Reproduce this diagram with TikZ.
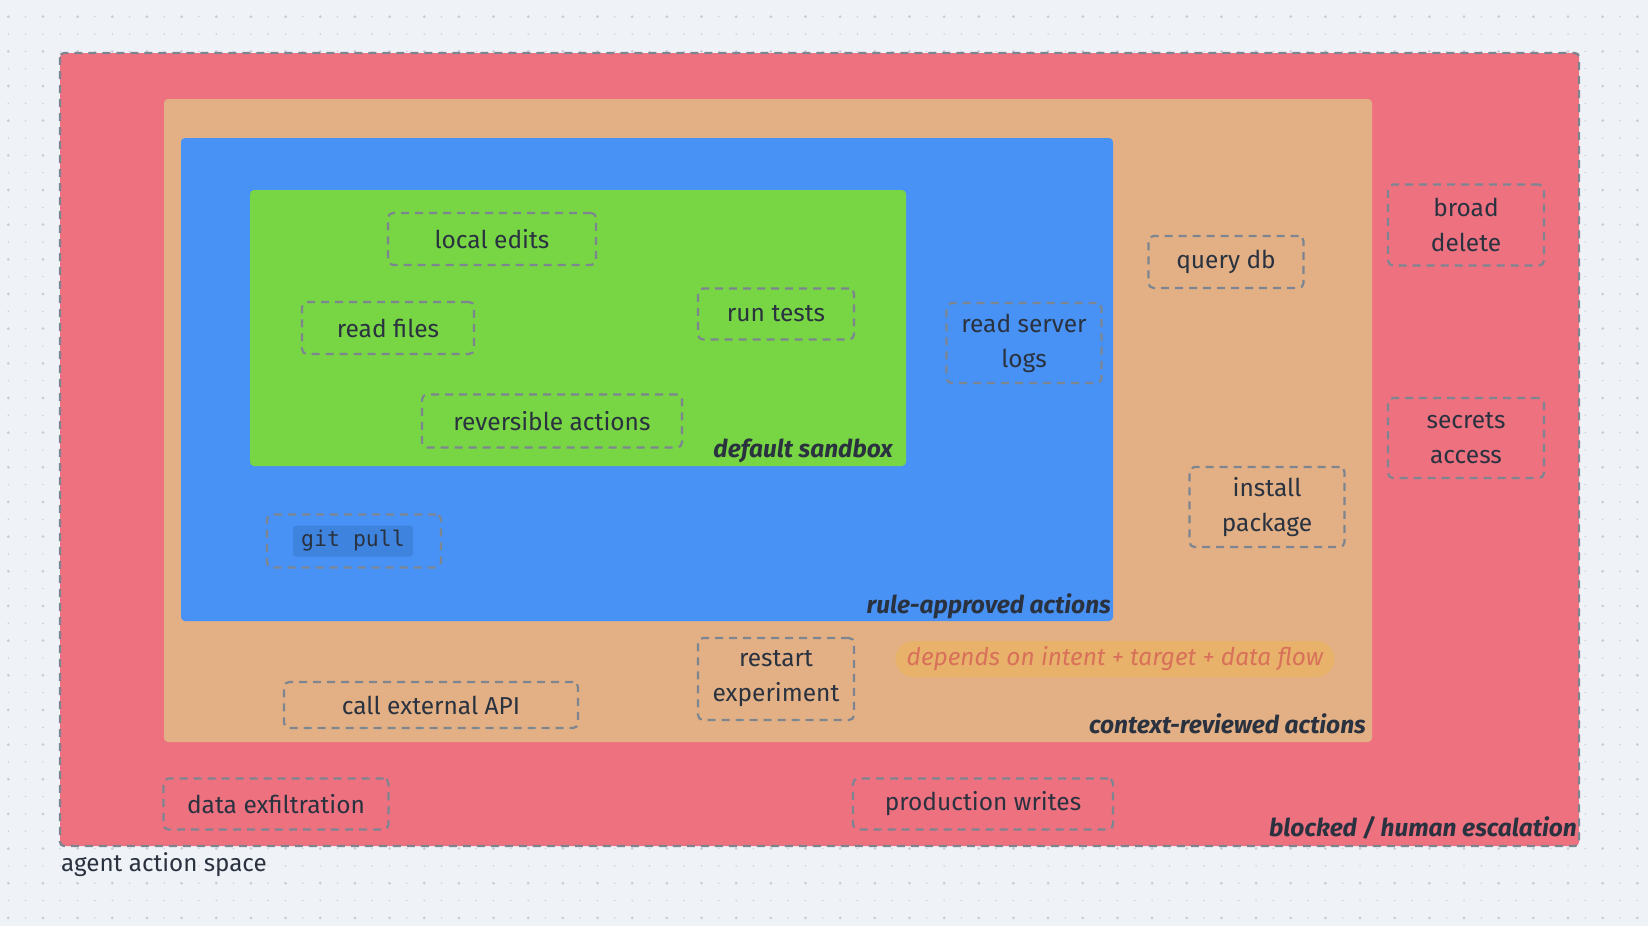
\documentclass[tikz,border=0pt]{standalone}
\usepackage{fontspec}
\setmainfont{Fira Sans}
\setmonofont{DejaVu Sans Mono}
\usetikzlibrary{positioning}
\definecolor{bggray}{RGB}{239,242,246}
\definecolor{dotgray}{RGB}{200,205,218}
\definecolor{blockred}{RGB}{238,113,128}
\definecolor{reviewtan}{RGB}{226,176,132}
\definecolor{ruleblue}{RGB}{72,146,245}
\definecolor{sandgreen}{RGB}{120,213,68}
\definecolor{dashgray}{RGB}{125,133,145}
\definecolor{inkdark}{RGB}{42,50,64}
\definecolor{pillamber}{RGB}{232,178,106}
\definecolor{coraltext}{RGB}{216,112,90}
\definecolor{gitblue}{RGB}{62,132,222}
\tikzset{
  zone/.style={rounded corners=4pt},
  action/.style={draw=dashgray,line width=2.2pt,dash pattern=on 8pt off 6pt,
    rounded corners=5pt,align=center,text=inkdark,inner sep=0pt,
    font=\fontsize{24.5}{35}\selectfont},
  zonelab/.style={anchor=base east,inner sep=0pt,text=inkdark,
    font=\fontsize{24.5}{28}\selectfont\bfseries\itshape},
  codechip/.style={fill=gitblue,rounded corners=3pt,inner sep=0pt,
    text=inkdark,font=\fontsize{21.5}{26}\ttfamily},
  pill/.style={fill=pillamber,rounded corners=18pt,inner sep=0pt,
    text=coraltext,font=\fontsize{24.4}{28}\selectfont\itshape}
}
\begin{document}
\begin{tikzpicture}[x=1pt,y=-1pt]
  \useasboundingbox[fill=bggray] (0,0) rectangle (1648,926);
  % dot grid
  \foreach \i in {0,...,94} {
    \foreach \j in {0,...,53} {
      \fill[dotgray] (8.3+17.33*\i,16.7+17.33*\j) circle (0.8);
    }
  }
  \foreach \i in {0,...,47} {
    \foreach \j in {0,...,26} {
      \fill[dotgray] (8.3+34.66*\i,16.7+34.66*\j) circle (1.5);
    }
  }
  % nested zones
  \fill[zone,blockred] (60,53) rectangle (1579,846);
  \draw[dashgray,line width=2.2pt,dash pattern=on 8pt off 6pt,rounded corners=4pt]
    (60,53) rectangle (1579,846);
  \fill[zone,reviewtan] (164,99) rectangle (1372,742);
  \fill[zone,ruleblue] (181,138) rectangle (1113,621);
  \fill[zone,sandgreen] (250,190) rectangle (906,466);

  \node[zonelab] (sandboxlab) at (893,457) {default sandbox};
  \node[zonelab] (rulelab) at (1111,613) {rule-approved actions};
  \node[zonelab] (contextlab) at (1366,733) {context-reviewed actions};
  \node[zonelab] (blockedlab) at (1577,836) {blocked / human escalation};
  \node[anchor=base west,inner sep=0pt,text=inkdark,font=\fontsize{24.2}{28}\selectfont]
    (spacelab) at (61,871) {agent action space};

  % default sandbox
  \node[action,minimum width=208,minimum height=52] (localedits) at (492,239) {local edits};
  \node[action,minimum width=172,minimum height=52] (readfiles) at (388,328) {read files};
  \node[action,minimum width=156,minimum height=51] (runtests) at (776,314) {run tests};
  \node[action,minimum width=260,minimum height=53] (reversible) at (552,421) {reversible actions};

  % rule-approved
  \node[action,minimum width=174,minimum height=53] (gitpull) at (354,541) {};
  \node[codechip,minimum width=120,minimum height=31] (gitchip) at (353,541) {git pull};
  \node[action,minimum width=155,minimum height=80] (serverlogs) at (1024,343) {read server\\logs};

  % context-reviewed
  \node[action,minimum width=155,minimum height=52] (querydb) at (1226,262) {query db};
  \node[action,minimum width=155,minimum height=80] (install) at (1267,507) {install\\package};
  \node[action,minimum width=156,minimum height=82] (restart) at (776,679) {restart\\experiment};
  \node[action,minimum width=294,minimum height=46] (extapi) at (431,705) {call external API};
  \node[pill,minimum width=439,minimum height=36] (depends) at (1115,659)
    {depends on intent + target + data flow};

  % blocked
  \node[action,minimum width=156,minimum height=81] (broaddelete) at (1466,225) {broad\\delete};
  \node[action,minimum width=156,minimum height=80] (secrets) at (1466,438) {secrets\\access};
  \node[action,minimum width=225,minimum height=51] (exfil) at (276,804) {data exfiltration};
  \node[action,minimum width=260,minimum height=51] (prodwrites) at (983,804) {production writes};
\end{tikzpicture}
\end{document}
